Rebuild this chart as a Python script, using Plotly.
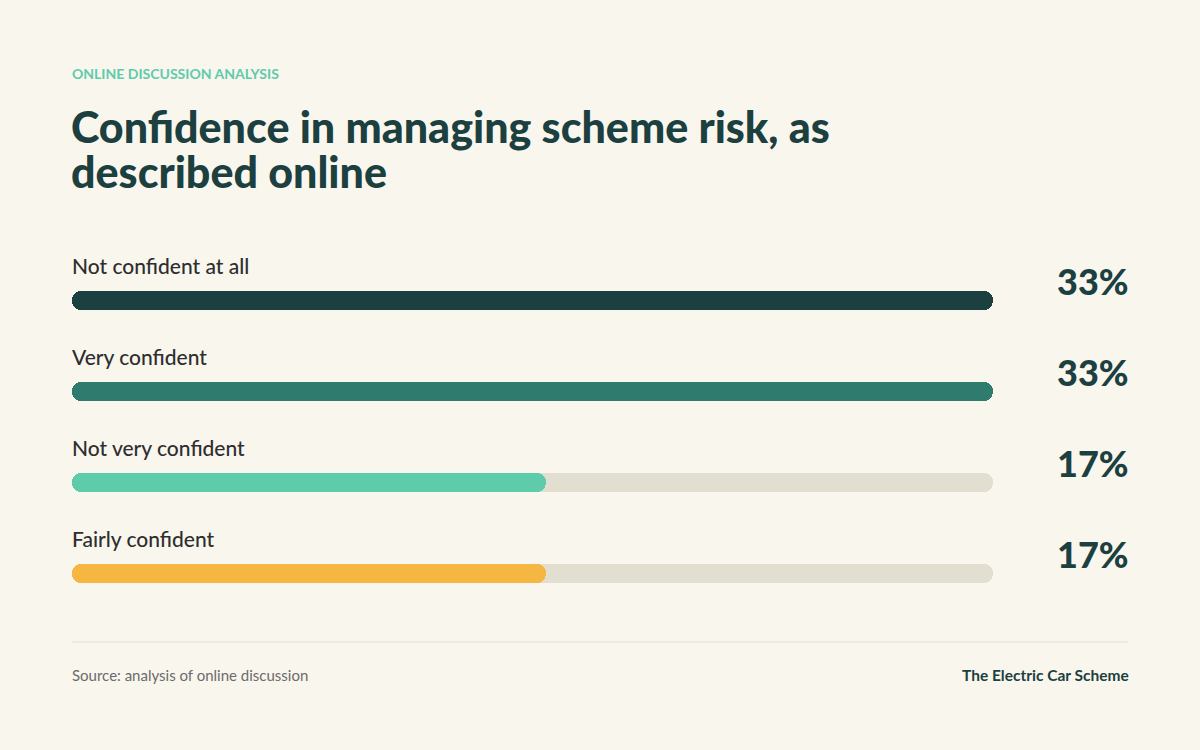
import plotly.graph_objects as go

# data
categories = ["Not confident at all", "Very confident", "Not very confident", "Fairly confident"]
shares = [33, 33, 17, 17]
bar_colors = ["#1c4040", "#2f7b6d", "#5ecbab", "#f5b642"]

bg = "#f9f6ee"
track = "#e2ded0"
dark = "#1c4040"
font = "Lato"

track_max = max(shares)
bar_w = 0.217
overlap = 0.8  # data units, keeps the two halves of a pill seamless


def pill(values, colors, hover=True):
    # plotly only rounds the far end of a bar, so each pill is two halves:
    # one growing left from the middle (round left end), one growing right
    mids = [v / 2 for v in values]
    right = go.Bar(
        y=categories, x=mids, base=mids, orientation="h", width=bar_w, showlegend=False,
        marker=dict(color=colors, cornerradius=10, line=dict(width=0)),
        customdata=values,
        hovertemplate="%{y}: %{customdata}%<extra></extra>" if hover else None,
        hoverinfo=None if hover else "skip",
    )
    left = go.Bar(
        y=categories, x=[-(m + overlap) for m in mids], base=[m + overlap for m in mids],
        orientation="h", width=bar_w, showlegend=False, hoverinfo="skip",
        marker=dict(color=colors, cornerradius=10, line=dict(width=0)),
    )
    return [right, left]


fig = go.Figure()
for tr in pill([track_max] * len(categories), track, hover=False):
    fig.add_trace(tr)
for tr in pill(shares, bar_colors):
    fig.add_trace(tr)

# category labels above each bar, and the percentage to the right
for cat, val in zip(categories, shares):
    fig.add_annotation(
        x=0, y=cat, xref="x", yref="y", text=cat, showarrow=False,
        xanchor="left", yanchor="middle", yshift=35, xshift=-2,
        font=dict(family=font, size=21, color="#2e2e2e", weight=500),
    )
    fig.add_annotation(
        x=1.150, y=cat, xref="paper", yref="y", text=f"{val}%", showarrow=False,
        xanchor="right", yanchor="middle", yshift=20,
        font=dict(family=font, size=36, color=dark, weight=900),
    )

# header
fig.add_annotation(
    x=0, y=1.492, xref="paper", yref="paper", yanchor="middle", xanchor="left", xshift=-2,
    text="ONLINE DISCUSSION ANALYSIS", showarrow=False,
    font=dict(family=font, size=14, color="#5ecbab", weight=700),
)
title_lines = ["Confidence in managing scheme risk, as", "described online"]
for line, ypos in zip(title_lines, [1.350, 1.228]):
    fig.add_annotation(
        x=0, y=ypos, xref="paper", yref="paper", yanchor="middle", xanchor="left", xshift=-3,
        text=line, showarrow=False,
        font=dict(family=font, size=43, color=dark, weight=900),
    )

# footer
fig.add_shape(type="line", xref="paper", yref="paper", x0=0, x1=1.1466, y0=-0.0516, y1=-0.0516,
              line=dict(color="#e3dfcc", width=1))
fig.add_annotation(
    x=0, y=-0.1413, xref="paper", yref="paper", xanchor="left", yanchor="middle", xshift=-2,
    text="Source: analysis of online discussion", showarrow=False,
    font=dict(family=font, size=15, color="#6b6b6b"),
)
fig.add_annotation(
    x=1.150, y=-0.1413, xref="paper", yref="paper", xanchor="right", yanchor="middle",
    text="The Electric Car Scheme", showarrow=False,
    font=dict(family=font, size=15.5, color=dark, weight=700),
)

fig.update_layout(
    width=1200, height=750,
    margin=dict(l=72, r=207, t=255, b=127),
    paper_bgcolor=bg, plot_bgcolor=bg,
    barmode="overlay", bargap=0,
    xaxis=dict(range=[0, track_max], visible=False, fixedrange=True),
    yaxis=dict(autorange="reversed", visible=False, fixedrange=True),
    font=dict(family=font),
)

fig.write_html("out.html", config={"displayModeBar": False},
               post_script="document.body.style.margin='0';")
